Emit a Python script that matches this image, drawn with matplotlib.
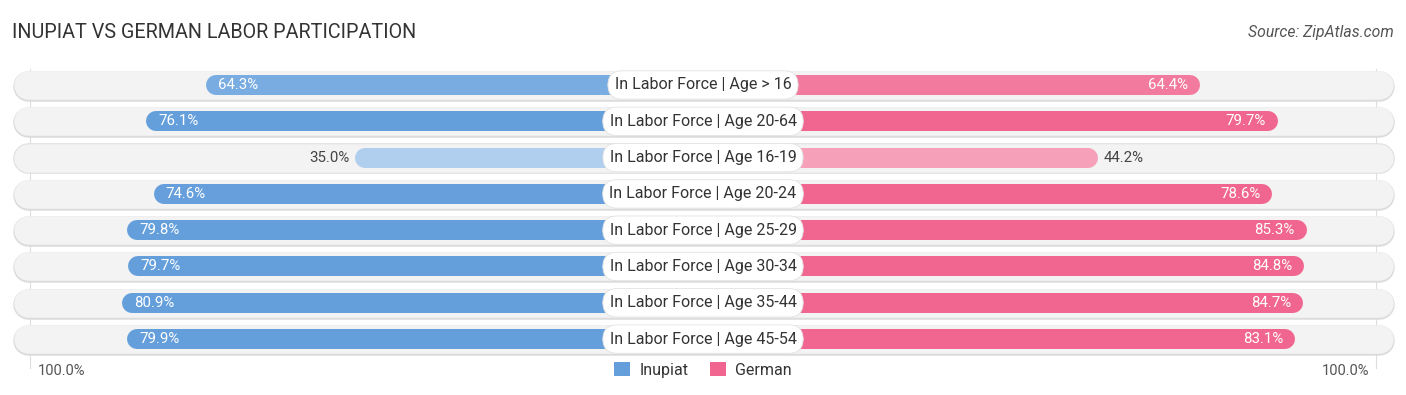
# Inupiat vs German labor participation - mirrored bar chart

import matplotlib.pyplot as plt
import matplotlib.colors as mcolors

plt.rcParams['font.family'] = ['Roboto', 'DejaVu Sans']

# data
categories = ['In Labor Force | Age > 16', 'In Labor Force | Age 20-64',
              'In Labor Force | Age 16-19', 'In Labor Force | Age 20-24',
              'In Labor Force | Age 25-29', 'In Labor Force | Age 30-34',
              'In Labor Force | Age 35-44', 'In Labor Force | Age 45-54']
inupiat = [64.3, 76.1, 35.0, 74.6, 79.8, 79.7, 80.9, 79.9]
german = [64.4, 79.7, 44.2, 78.6, 85.3, 84.8, 84.7, 83.1]
series_names = ['Inupiat', 'German']

BLUE = '#659fdb'
PINK = '#f06690'
W, H, DPI = 1406, 395, 100
PX = 5.08          # pixels per percent
GAP = 33.5         # half width of the centre gap, in percent
ROW = 36.3         # row spacing in px
Y0 = 85            # first row centre in px


def shade(color, v):
    # lighter colour for smaller values
    t = min(max((v - 30) / 45.0, 0), 1)
    t = 0.45 + 0.55 * t
    c = mcolors.to_rgb(color)
    return tuple(1 - t * (1 - x) for x in c)


fig = plt.figure(figsize=(W / DPI, H / DPI), dpi=DPI)
ax = fig.add_axes([0, 0, 1, 1])
half = (W / 2) / PX
ax.set_xlim(-half, half)
ax.set_ylim((H - Y0) / ROW, -Y0 / ROW)
ax.axis('off')

pt = 72.0 / DPI  # points per pixel
track_end = (W / 2 - 13) / PX
r_track = 14.5 / PX
r_bar = 10 / PX

# grid lines at the 100% marks
for s in (-1, 1):
    ax.plot([s * 132.5, s * 132.5], [-0.45, len(categories) - 0.2], color='#dddddd', lw=0.8, zorder=0)

for i, cat in enumerate(categories):
    # background track
    ax.plot([-track_end + r_track, track_end - r_track], [i + 0.02, i + 0.02], color='#dcdcdc',
            lw=30.5 * pt, solid_capstyle='round', zorder=1)
    ax.plot([-track_end + r_track, track_end - r_track], [i, i], color='#f3f3f3',
            lw=28.5 * pt, solid_capstyle='round', zorder=1)

    for s, vals, col in ((-1, inupiat, BLUE), (1, german, PINK)):
        v = vals[i]
        end = s * (GAP + v) - s * r_bar
        ax.plot([0, end], [i, i], color=shade(col, v), lw=20 * pt,
                solid_capstyle='round', zorder=2)
        edge = s * (GAP + v)
        if v > 55:
            ax.text(edge - s * 12 / PX, i, f'{v:.1f}%', color='white', fontsize=10.8,
                    ha='left' if s < 0 else 'right', va='center', zorder=4)
        else:
            ax.text(edge + s * 6 / PX, i, f'{v:.1f}%', color='#444444', fontsize=10.8,
                    ha='right' if s < 0 else 'left', va='center', zorder=4)

    ax.text(0, i, cat, fontsize=11.5, color='#333333', ha='center', va='center', zorder=5,
            bbox=dict(boxstyle='round,pad=0.42,rounding_size=0.9', fc='white', ec='#e2e2e2', lw=0.6))

# title and source
fig.text(12 / W, 1 - 33 / H, 'INUPIAT VS GERMAN LABOR PARTICIPATION', fontsize=14.2,
         color='#333333', ha='left', va='center')
fig.text(1 - 12 / W, 1 - 33 / H, 'Source: ZipAtlas.com', fontsize=11.3, style='italic',
         color='#555555', ha='right', va='center')

# axis end labels
fig.text(38 / W, 1 - 371 / H, '100.0%', fontsize=10.5, color='#555555', ha='left', va='center')
fig.text(1369 / W, 1 - 371 / H, '100.0%', fontsize=10.5, color='#555555', ha='right', va='center')

# legend
handles = [plt.Rectangle((0, 0), 1, 1, fc=BLUE), plt.Rectangle((0, 0), 1, 1, fc=PINK)]
fig.legend(handles, series_names, loc='center', bbox_to_anchor=(0.5, 1 - 370 / H), ncol=2,
           frameon=False, fontsize=11.5, handlelength=1.0, handleheight=1.0,
           handletextpad=0.6, columnspacing=1.3, labelcolor='#333333')

fig.savefig('out.png', dpi=DPI)
